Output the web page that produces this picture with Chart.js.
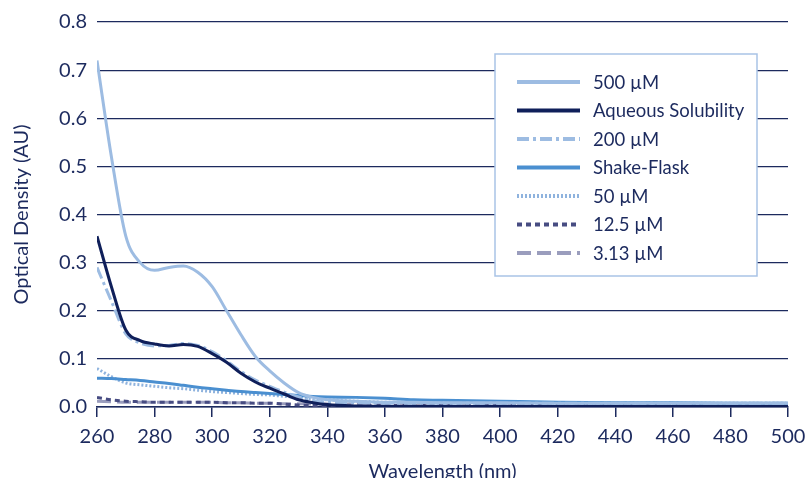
<!DOCTYPE html>
<html>
<head>
<meta charset="utf-8">
<script src="https://cdn.jsdelivr.net/npm/chart.js@4.4.0/dist/chart.umd.min.js"></script>
<style>
  html, body { margin: 0; padding: 0; background: #fff; }
  #wrap { width: 807px; height: 478px; }
</style>
</head>
<body>
<div id="wrap"><canvas id="specChart" width="807" height="478"></canvas></div>
<script>
// Spectra
const wavelengths = [260, 265, 270, 275, 280, 285, 290, 295, 300, 305, 310, 315, 320, 325, 330, 335, 340, 350, 360, 370, 380, 400, 420, 440, 460, 480, 500];
const od500 =       [0.72, 0.52, 0.355, 0.30, 0.284, 0.29, 0.293, 0.28, 0.25, 0.20, 0.15, 0.105, 0.075, 0.05, 0.03, 0.02, 0.015, 0.012, 0.01, 0.01, 0.009, 0.009, 0.008, 0.008, 0.008, 0.008, 0.008];
const odAqueous =   [0.355, 0.25, 0.16, 0.138, 0.131, 0.127, 0.13, 0.126, 0.111, 0.093, 0.07, 0.052, 0.039, 0.027, 0.015, 0.009, 0.005, 0.002, 0.001, 0.001, 0.001, 0.001, 0.001, 0.001, 0.001, 0.001, 0.001];
const od200 =       [0.29, 0.22, 0.152, 0.133, 0.127, 0.128, 0.132, 0.128, 0.115, 0.096, 0.074, 0.056, 0.043, 0.031, 0.021, 0.013, 0.01, 0.009, 0.008, 0.008, 0.008, 0.008, 0.008, 0.008, 0.008, 0.008, 0.008];
const odShake =     [0.06, 0.059, 0.057, 0.055, 0.052, 0.049, 0.045, 0.041, 0.038, 0.035, 0.032, 0.03, 0.028, 0.026, 0.024, 0.022, 0.021, 0.02, 0.018, 0.015, 0.014, 0.012, 0.01, 0.009, 0.009, 0.008, 0.008];
const od50 =        [0.08, 0.063, 0.05, 0.046, 0.043, 0.04, 0.038, 0.035, 0.032, 0.03, 0.028, 0.026, 0.025, 0.022, 0.02, 0.017, 0.015, 0.012, 0.01, 0.01, 0.009, 0.009, 0.008, 0.008, 0.008, 0.008, 0.008];
const od12_5 =      [0.02, 0.015, 0.012, 0.011, 0.01, 0.01, 0.01, 0.01, 0.01, 0.009, 0.009, 0.008, 0.008, 0.006, 0.004, 0.003, 0.002, 0.002, 0.003, 0.003, 0.003, 0.003, 0.004, 0.004, 0.004, 0.004, 0.004];
const od3_13 =      [0.012, 0.011, 0.01, 0.01, 0.01, 0.01, 0.01, 0.01, 0.01, 0.009, 0.009, 0.008, 0.008, 0.007, 0.007, 0.006, 0.006, 0.006, 0.006, 0.005, 0.005, 0.005, 0.005, 0.005, 0.005, 0.005, 0.005];
const xTicks = [260, 280, 300, 320, 340, 360, 380, 400, 420, 440, 460, 480, 500];

const navy = "#1c2a5e";
const fontFamily = "Lato, 'Noto Sans', sans-serif";

function pts(vals) {
  return wavelengths.map((w, i) => ({ x: w, y: vals[i] }));
}

function series(label, vals, color, dash) {
  return {
    label: label,
    data: pts(vals),
    borderColor: color,
    backgroundColor: color,
    borderWidth: 3,
    borderDash: dash,
    pointRadius: 0,
    cubicInterpolationMode: "monotone",
    fill: false,
  };
}

// legend drawn as a box inside the plot
const boxLegend = {
  id: "boxLegend",
  afterDatasetsDraw(chart) {
    const c = chart.ctx;
    const bx = 495, by = 54, bw = 262, bh = 222;
    c.save();
    c.fillStyle = "#fff";
    c.fillRect(bx, by, bw, bh);
    c.strokeStyle = "#a9c3e6";
    c.lineWidth = 1.5;
    c.strokeRect(bx, by, bw, bh);
    c.font = "18.5px " + fontFamily;
    c.textBaseline = "middle";
    chart.data.datasets.forEach((ds, i) => {
      const y = 82 + i * 28.5;
      c.strokeStyle = ds.borderColor;
      c.lineWidth = 4;
      c.setLineDash(ds.borderDash || []);
      c.beginPath();
      c.moveTo(517, y);
      c.lineTo(580, y);
      c.stroke();
      c.setLineDash([]);
      c.fillStyle = navy;
      c.fillText(ds.label, 593, y + 1);
    });
    c.restore();
  },
};

const ctx = document.getElementById("specChart").getContext("2d");
new Chart(ctx, {
  type: "line",
  data: {
    datasets: [
      series("500 \u00b5M", od500, "#9dbce2", []),
      series("Aqueous Solubility", odAqueous, "#0f1f5a", []),
      series("200 \u00b5M", od200, "#9dbce2", [12, 4, 3, 4]),
      series("Shake-Flask", odShake, "#4a8fd0", []),
      series("50 \u00b5M", od50, "#8fb3de", [2, 2]),
      series("12.5 \u00b5M", od12_5, "#474c82", [5, 4]),
      series("3.13 \u00b5M", od3_13, "#9a9dbd", [14, 6]),
    ],
  },
  options: {
    responsive: false,
    animation: false,
    layout: { padding: { top: 19, right: 0, left: 0, bottom: 0 } },
    plugins: {
      legend: { display: false },
      tooltip: { enabled: false },
    },
    scales: {
      x: {
        type: "linear",
        min: 260,
        max: 500,
        afterBuildTicks: (axis) => {
          axis.ticks = xTicks.map((v) => ({ value: v }));
        },
        afterFit: (axis) => {
          axis.height = 71;
          axis.paddingRight = 19;
        },
        grid: {
          drawOnChartArea: false,
          drawTicks: true,
          tickLength: 10,
          color: navy,
          lineWidth: 1.5,
        },
        border: { display: true, color: navy, width: 1.5 },
        ticks: {
          color: navy,
          font: { size: 20, family: fontFamily },
          padding: 8,
          maxRotation: 0,
        },
        title: {
          display: true,
          text: "Wavelength (nm)",
          color: navy,
          font: { size: 20, family: fontFamily },
          padding: { top: 2, bottom: -6 },
        },
      },
      y: {
        min: 0,
        max: 0.8,
        afterFit: (axis) => {
          axis.width = 97;
        },
        grid: {
          drawTicks: false,
          color: navy,
          lineWidth: 1.2,
        },
        border: { display: false },
        ticks: {
          stepSize: 0.1,
          color: navy,
          font: { size: 20, family: fontFamily },
          padding: 10,
          callback: (v) => v.toFixed(1),
        },
        title: {
          display: true,
          text: "Optical Density (AU)",
          color: navy,
          font: { size: 20, family: fontFamily },
          padding: { top: 10, bottom: 4 },
        },
      },
    },
  },
  plugins: [boxLegend],
});
</script>
</body>
</html>
